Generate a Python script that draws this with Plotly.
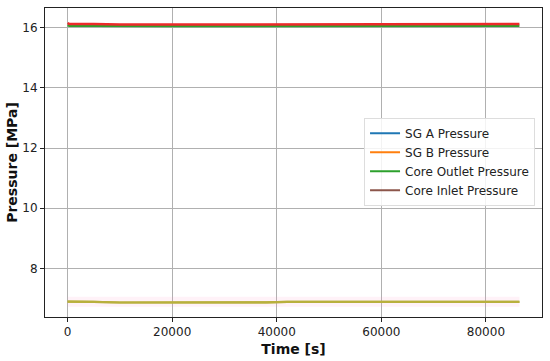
import plotly.graph_objects as go

time_s = [0, 300, 5000, 10000, 20000, 30000, 38000, 42000, 50000, 60000, 70000, 80000, 86400]
sg_a = [6.89, 6.89, 6.885, 6.862, 6.86, 6.86, 6.865, 6.885, 6.886, 6.886, 6.886, 6.886, 6.886]
sg_b = [6.89, 6.89, 6.885, 6.862, 6.86, 6.86, 6.865, 6.885, 6.886, 6.886, 6.886, 6.886, 6.886]
core_outlet = [16.09, 16.07, 16.07, 16.06, 16.06, 16.06, 16.06, 16.07, 16.07, 16.07, 16.07, 16.07, 16.07]
core_inlet = [16.16, 16.13, 16.125, 16.11, 16.11, 16.11, 16.11, 16.125, 16.125, 16.125, 16.125, 16.125, 16.125]

names = ["SG A Pressure", "SG B Pressure", "Core Outlet Pressure", "Core Inlet Pressure"]
legend_colors = ["#1f77b4", "#ff7f0e", "#2ca02c", "#8c564b"]
line_colors = ["#b8b03c", "#b8b03c", "#2ca02c", "#ec2a2a"]
series = [sg_a, sg_b, core_outlet, core_inlet]

fig = go.Figure()
# faint halo on the lower lines
fig.add_trace(go.Scatter(x=time_s, y=sg_a, mode="lines", line=dict(color="rgba(255,150,200,0.12)", width=10),
                         showlegend=False, hoverinfo="skip"))
for name, ys, lc in zip(names, series, line_colors):
    fig.add_trace(go.Scatter(x=time_s, y=ys, mode="lines", name=name,
                             line=dict(color=lc, width=2.5 if lc != "#b8b03c" else 2.2),
                             showlegend=False))
for name, lc in zip(names, legend_colors):
    fig.add_trace(go.Scatter(x=[None], y=[None], mode="lines", name=name,
                             line=dict(color=lc, width=2)))

axis_common = dict(showline=True, mirror=True, linecolor="#222", linewidth=1,
                   ticks="outside", ticklen=4, tickcolor="#222",
                   showgrid=True, gridcolor="#b0b0b0", gridwidth=0.8,
                   zeroline=False, tickfont=dict(family="DejaVu Sans", size=12, color="#222"))

fig.update_layout(
    width=550, height=361,
    margin=dict(l=45, r=7, t=7, b=43),
    paper_bgcolor="white", plot_bgcolor="white",
    font=dict(family="DejaVu Sans", size=12, color="#222"),
    xaxis=dict(range=[-4320, 90720], tickvals=[0, 20000, 40000, 60000, 80000],
               ticktext=["0", "20000", "40000", "60000", "80000"],
               title=dict(text="<b>Time [s]</b>", font=dict(size=14, family="DejaVu Sans", color="#111"), standoff=5),
               **axis_common),
    yaxis=dict(range=[6.38, 16.66], tickvals=[8, 10, 12, 14, 16],
               title=dict(text="<b>Pressure [MPa]</b>", font=dict(size=14, family="DejaVu Sans", color="#111"), standoff=1),
               **axis_common),
    legend=dict(x=0.986, y=0.645, xanchor="right", yanchor="top",
                bgcolor="rgba(255,255,255,0.85)", bordercolor="#ddd", borderwidth=1,
                font=dict(family="DejaVu Sans", size=12, color="#222"),
                itemwidth=30, tracegroupgap=0),
    showlegend=True,
)

fig.write_html("out.html", config={"displayModeBar": False},
               post_script="document.body.style.margin='0';")
